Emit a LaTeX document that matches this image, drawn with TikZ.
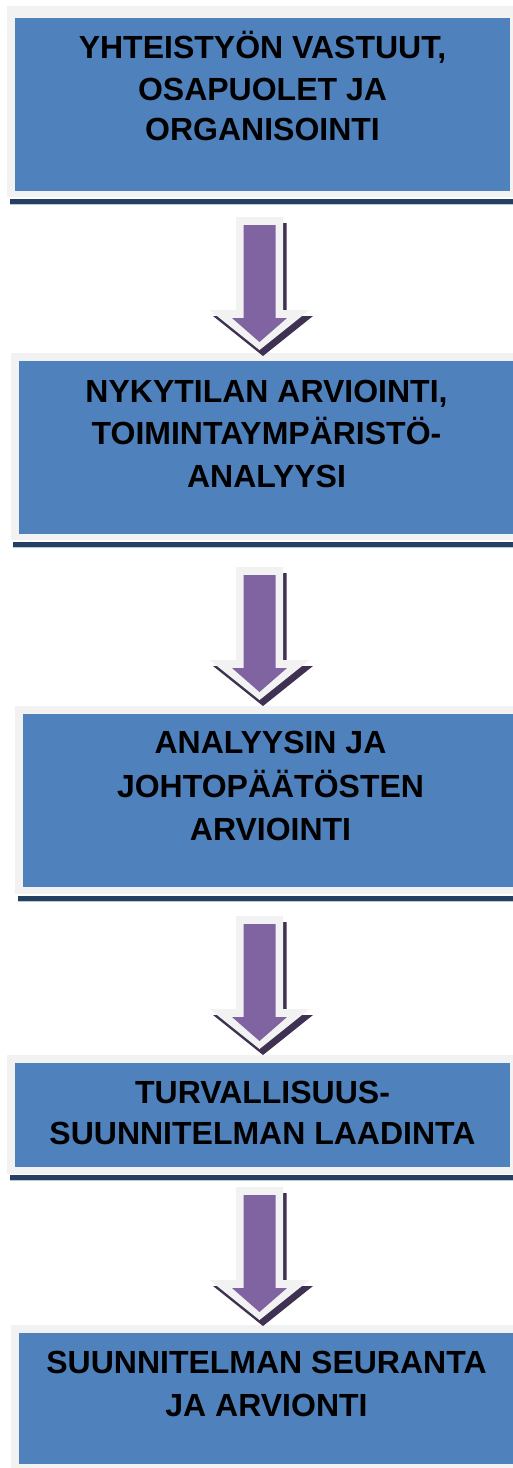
\documentclass[tikz,border=0pt]{standalone}
\usepackage{fontspec}
\setmainfont{Liberation Sans}
\definecolor{boxblue}{HTML}{4F81BD}
\definecolor{framegray}{HTML}{F2F2F2}
\definecolor{arrpurple}{HTML}{8064A2}
\definecolor{arrshadow}{HTML}{3F3151}
\definecolor{barblue}{HTML}{243F60}
\definecolor{barline}{HTML}{B9C7D8}
\tikzset{
  framerect/.style={fill=framegray},
  bluebox/.style={fill=boxblue, draw=none, inner sep=0pt, outer sep=0pt, anchor=north west, minimum width=495pt},
  shadowbar/.style={fill=barblue},
  barunder/.style={draw=barline, line width=1pt},
  boxtext/.style={anchor=base, inner sep=0pt, font=\fontsize{32}{38}\selectfont\bfseries},
  flowarrow/.pic={
    \begin{scope}[shift={(3.5,6)}]
      \fill[arrshadow] (-23.5,0) -- (23.5,0) -- (23.5,93) -- (50,93) -- (0,133) -- (-50,93) -- (-23.5,93) -- cycle;
    \end{scope}
    \fill[framegray] (-23.5,0) -- (23.5,0) -- (23.5,93) -- (50,93) -- (0,133) -- (-50,93) -- (-23.5,93) -- cycle;
    \fill[arrpurple] (-16,8) -- (16,8) -- (16,101) -- (27.5,101) -- (0,125) -- (-27.5,101) -- (-16,101) -- cycle;
  }
}
\begin{document}
\begin{tikzpicture}[x=1pt,y=-1pt]
\useasboundingbox (0,0) rectangle (513,1468);
\clip (0,0) rectangle (513,1468);

% Box 1
\fill[framerect] (7,6) rectangle (520,197);
\node[bluebox, minimum height=173pt] (b1) at (15,18) {};
\fill[shadowbar] (10,199) rectangle (520,204);
\draw[barunder] (10,204.5) -- (520,204.5);
\node[boxtext] (t1a) at (262.5,58) {YHTEISTYÖN VASTUUT,};
\node[boxtext] (t1b) at (262.5,100) {OSAPUOLET JA};
\node[boxtext] (t1c) at (262.5,140) {ORGANISOINTI};

% Box 2
\fill[framerect] (11,353) rectangle (520,540);
\node[bluebox, minimum height=173pt] (b2) at (19,361) {};
\fill[shadowbar] (13,542) rectangle (520,547);
\draw[barunder] (13,547.5) -- (520,547.5);
\node[boxtext] (t2a) at (266.5,402) {NYKYTILAN ARVIOINTI,};
\node[boxtext] (t2b) at (266.5,444) {TOIMINTAYMPÄRISTÖ-};
\node[boxtext] (t2c) at (266.5,487) {ANALYYSI};

% Box 3
\fill[framerect] (15,706) rectangle (520,894);
\node[bluebox, minimum height=173pt] (b3) at (23,714) {};
\fill[shadowbar] (18,896) rectangle (520,901);
\draw[barunder] (18,901.5) -- (520,901.5);
\node[boxtext] (t3a) at (270.5,753) {ANALYYSIN JA};
\node[boxtext] (t3b) at (270.5,797) {JOHTOPÄÄTÖSTEN};
\node[boxtext] (t3c) at (270.5,840) {ARVIOINTI};

% Box 4
\fill[framerect] (7,1055) rectangle (513,1174);
\node[bluebox, minimum height=104pt] (b4) at (15,1063) {};
\fill[shadowbar] (10,1175) rectangle (520,1180);
\draw[barunder] (10,1180.5) -- (520,1180.5);
\node[boxtext] (t4a) at (262.5,1103) {TURVALLISUUS-};
\node[boxtext] (t4b) at (262.5,1144) {SUUNNITELMAN LAADINTA};

% Box 5
\fill[framerect] (11,1325) rectangle (520,1470);
\node[bluebox, minimum height=131pt] (b5) at (19,1333) {};
\node[boxtext] (t5a) at (266.5,1373) {SUUNNITELMAN SEURANTA};
\node[boxtext] (t5b) at (266.5,1416) {JA ARVIONTI};

% Arrows
\coordinate (a1) at (259.5,217);
\coordinate (a2) at (259.5,567);
\coordinate (a3) at (259.5,916);
\coordinate (a4) at (259.5,1187);
\pic at (a1) {flowarrow};
\pic at (a2) {flowarrow};
\pic at (a3) {flowarrow};
\pic at (a4) {flowarrow};
\end{tikzpicture}
\end{document}
